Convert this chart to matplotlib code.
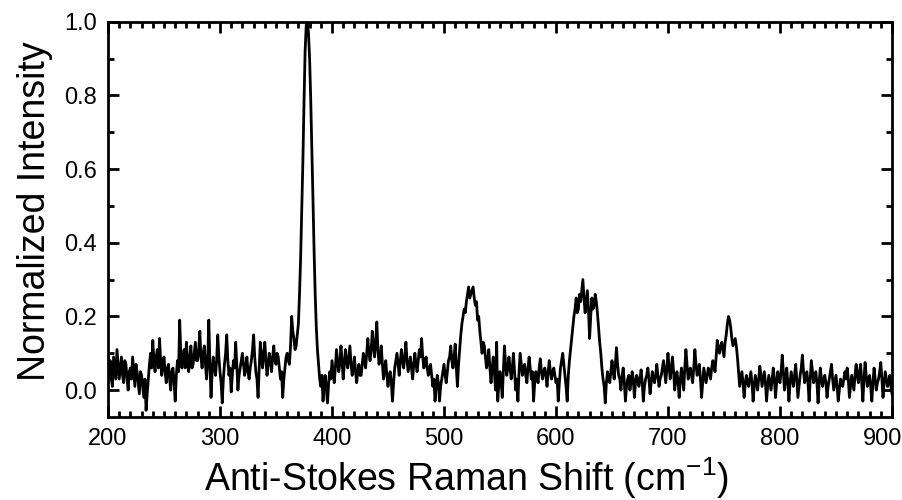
import numpy as np
import matplotlib
matplotlib.use("Agg")
import matplotlib.pyplot as plt
import matplotlib.transforms as mtransforms
from matplotlib.ticker import MultipleLocator

plt.rcParams['font.family'] = ['Liberation Sans', 'DejaVu Sans']

# anti-Stokes spectrum, 1 cm^-1 steps from 200 to 900 (20 points per row)
shift_start = 200
shift_step = 1
intensity = [
    0.02, 0.06, 0.08, 0.03, 0.01, 0.09, 0.06, 0.03, 0.11, 0.07, 0.03, 0.06, 0.09, 0.04, 0.02, 0.08, 0.07, 0.03, 0.00, 0.05,
    0.06, 0.03, 0.09, 0.05, 0.01, 0.07, 0.05, 0.02, -0.01, 0.05, 0.04, 0.01, -0.02, 0.03, -0.055, -0.01, 0.03, 0.07, 0.10, 0.06,
    0.135, 0.08, 0.05, 0.09, 0.11, 0.06, 0.14, 0.08, 0.04, 0.07, 0.09, 0.05, 0.02, 0.06, 0.07, 0.03, 0.00, 0.05, 0.06, 0.02,
    -0.03, 0.04, 0.08, 0.05, 0.19, 0.10, 0.06, 0.09, 0.11, 0.06, 0.13, 0.08, 0.05, 0.09, 0.12, 0.06, 0.07, 0.10, 0.13, 0.08,
    0.08, 0.11, 0.16, 0.09, 0.06, 0.10, 0.12, 0.07, 0.03, 0.08, 0.19, 0.07, -0.02, 0.05, 0.09, 0.06, 0.04, 0.08, 0.15, 0.09,
    0.05, 0.02, -0.035, 0.03, 0.07, 0.10, 0.15, 0.08, 0.04, 0.06, -0.005, 0.04, 0.08, 0.06, 0.13, 0.07, 0.00, 0.04, 0.06, 0.08,
    0.10, 0.07, 0.04, 0.06, 0.09, 0.05, 0.03, 0.06, 0.08, 0.11, 0.15, 0.09, 0.05, 0.03, -0.02, 0.06, 0.13, 0.09, 0.06, 0.10,
    0.13, 0.08, 0.04, 0.07, 0.10, 0.08, 0.05, 0.09, 0.12, 0.08, 0.07, 0.10, 0.09, 0.06, 0.03, 0.05, -0.02, 0.03, 0.06, 0.09,
    0.10, 0.08, 0.07, 0.12, 0.20, 0.16, 0.14, 0.11, 0.12, 0.15, 0.18, 0.26, 0.36, 0.49, 0.62, 0.78, 0.92, 0.99, 1.00, 0.97,
    0.90, 0.79, 0.66, 0.52, 0.38, 0.26, 0.17, 0.11, 0.07, 0.03, 0.01, 0.04, -0.03, 0.02, 0.04, 0.00, -0.035, 0.02, 0.05, 0.03,
    0.08, 0.05, 0.02, 0.06, 0.11, 0.08, 0.05, 0.07, 0.12, 0.08, 0.03, 0.07, 0.11, 0.08, 0.06, 0.09, 0.12, 0.07, 0.04, 0.06,
    0.09, 0.05, 0.02, 0.05, 0.07, 0.04, 0.04, 0.07, 0.10, 0.08, 0.06, 0.10, 0.14, 0.10, 0.08, 0.11, 0.16, 0.12, 0.09, 0.13,
    0.185, 0.11, 0.07, 0.09, 0.12, 0.07, 0.03, 0.06, 0.08, 0.04, 0.01, 0.04, 0.05, 0.02, -0.03, 0.02, 0.06, 0.08, 0.10, 0.07,
    0.04, 0.08, 0.11, 0.08, 0.06, 0.09, 0.13, 0.08, 0.05, 0.07, 0.09, 0.06, 0.03, 0.07, 0.10, 0.07, 0.05, 0.08, 0.11, 0.09,
    0.14, 0.09, 0.06, 0.07, 0.09, 0.06, 0.04, 0.06, 0.07, 0.04, 0.01, 0.03, -0.03, 0.01, 0.04, 0.02, -0.03, 0.01, 0.03, 0.05,
    0.07, 0.04, 0.02, 0.05, 0.08, 0.09, 0.12, 0.08, 0.06, 0.09, 0.125, 0.06, 0.01, 0.07, 0.11, 0.15, 0.18, 0.20, 0.22, 0.21,
    0.24, 0.26, 0.28, 0.25, 0.26, 0.27, 0.28, 0.25, 0.23, 0.24, 0.19, 0.20, 0.16, 0.13, 0.10, 0.13, 0.12, 0.09, 0.06, 0.08,
    0.11, 0.06, 0.02, 0.06, 0.09, 0.05, 0.00, 0.13, -0.03, 0.02, 0.05, 0.02, -0.02, 0.05, 0.12, 0.07, 0.04, 0.06, 0.09, 0.06,
    0.03, 0.06, 0.10, 0.05, 0.00, 0.03, -0.03, 0.05, 0.10, 0.07, 0.04, 0.06, 0.07, 0.04, 0.02, 0.06, 0.09, 0.06, 0.03, 0.05,
    -0.03, 0.02, 0.05, 0.04, 0.02, 0.06, 0.085, 0.05, 0.03, 0.05, 0.06, 0.04, 0.01, 0.05, 0.08, 0.05, 0.03, 0.05, 0.06, 0.04,
    0.02, 0.03, -0.03, 0.02, 0.06, 0.08, 0.10, 0.07, 0.04, 0.01, -0.03, 0.04, 0.08, 0.11, 0.14, 0.17, 0.20, 0.22, 0.25, 0.21,
    0.22, 0.26, 0.24, 0.27, 0.30, 0.25, 0.21, 0.24, 0.27, 0.22, 0.14, 0.20, 0.25, 0.22, 0.23, 0.26, 0.24, 0.21, 0.17, 0.13,
    0.10, 0.06, 0.03, 0.01, -0.035, 0.02, 0.05, 0.03, 0.02, 0.05, 0.08, 0.05, 0.03, 0.07, 0.115, 0.07, 0.04, 0.03, 0.00, 0.04,
    0.06, 0.02, -0.03, 0.01, 0.03, 0.04, 0.00, 0.02, 0.05, 0.03, -0.02, 0.02, 0.04, 0.03, 0.01, 0.03, 0.055, 0.02, -0.03, 0.01,
    0.03, 0.04, 0.06, 0.03, -0.01, 0.02, 0.05, 0.03, 0.02, 0.04, 0.07, 0.04, 0.01, 0.03, 0.04, 0.06, 0.08, 0.05, 0.02, 0.06,
    0.10, 0.06, 0.03, 0.06, 0.09, 0.05, 0.00, 0.03, 0.05, 0.02, -0.02, 0.03, 0.06, 0.03, 0.00, 0.06, 0.11, 0.07, 0.03, 0.05,
    0.06, 0.04, 0.02, 0.06, 0.11, 0.07, 0.04, 0.05, 0.07, 0.03, -0.02, 0.02, 0.06, 0.04, 0.02, 0.04, 0.06, 0.05, 0.03, 0.06,
    0.08, 0.07, 0.05, 0.09, 0.135, 0.11, 0.10, 0.12, 0.13, 0.11, 0.09, 0.13, 0.15, 0.18, 0.20, 0.19, 0.17, 0.14, 0.12, 0.13,
    0.14, 0.12, 0.09, 0.05, 0.01, 0.03, 0.05, 0.02, -0.02, 0.02, 0.04, 0.02, 0.01, 0.03, 0.05, 0.02, -0.03, 0.01, 0.04, 0.02,
    0.00, 0.03, 0.065, 0.04, 0.01, 0.03, 0.05, 0.02, -0.03, 0.01, 0.04, 0.02, 0.00, 0.03, 0.06, 0.03, -0.02, 0.02, 0.05, 0.03,
    0.02, 0.05, 0.095, 0.05, 0.00, 0.03, 0.06, 0.02, -0.03, 0.02, 0.05, 0.03, 0.01, 0.04, 0.07, 0.03, -0.02, 0.01, 0.04, 0.06,
    0.095, 0.05, 0.02, 0.04, 0.05, 0.02, -0.03, 0.03, 0.08, 0.05, 0.02, 0.03, 0.05, 0.02, -0.035, 0.02, 0.06, 0.03, 0.01, 0.03,
    0.04, 0.02, -0.02, 0.01, 0.03, 0.05, 0.07, 0.03, 0.00, 0.02, 0.04, 0.01, -0.03, 0.00, 0.03, 0.02, 0.01, 0.03, 0.05, 0.03,
    0.06, 0.03, -0.02, 0.01, 0.04, 0.02, 0.00, 0.04, 0.07, 0.04, 0.02, 0.05, 0.07, 0.02, -0.03, 0.03, 0.075, 0.04, 0.01, 0.03,
    0.04, 0.01, -0.03, 0.02, 0.06, 0.03, 0.00, 0.02, 0.03, 0.05, 0.075, 0.03, -0.02, 0.02, 0.05, 0.03, 0.01, 0.02, 0.04, 0.01,
    -0.01,
]
shift = shift_start + shift_step * np.arange(len(intensity))
x_ticks = [200, 300, 400, 500, 600, 700, 800, 900]
y_ticks = [0.0, 0.2, 0.4, 0.6, 0.8, 1.0]

fig = plt.figure(figsize=(9.03, 5.0), dpi=100)
ax = fig.add_axes([0.1196, 0.166, 0.8682, 0.7906])

ax.plot(shift, intensity, color='black', lw=2.0)

ax.set_xlim(200, 900)
ax.set_ylim(-0.073, 1.0)
ax.set_xticks(x_ticks)
ax.set_xticklabels([str(t) for t in x_ticks])
ax.set_yticks(y_ticks)
ax.set_yticklabels(['%.1f' % t for t in y_ticks])
ax.xaxis.set_minor_locator(MultipleLocator(10))
ax.yaxis.set_minor_locator(MultipleLocator(0.1))

ax.tick_params(which='both', direction='in', top=True, right=True, width=2)
ax.tick_params(which='major', length=8, labelsize=17, pad=8)
ax.tick_params(which='minor', length=4.5)
for sp in ax.spines.values():
    sp.set_linewidth(2)

# pull the 900 label in so it stays inside the figure
shift_left = mtransforms.ScaledTranslation(-9 / 100, 0, fig.dpi_scale_trans)
for lab in ax.get_xticklabels():
    if lab.get_text() == '900':
        lab.set_transform(lab.get_transform() + shift_left)

ax.set_xlabel(r'Anti-Stokes Raman Shift (cm$^{\mathregular{-1}}$)', fontsize=27, labelpad=4)
ax.set_ylabel('Normalized Intensity', fontsize=27, labelpad=8)
ax.xaxis.label.set_x(0.457)
ax.yaxis.label.set_y(0.521)

fig.savefig('out.png', dpi=100)
